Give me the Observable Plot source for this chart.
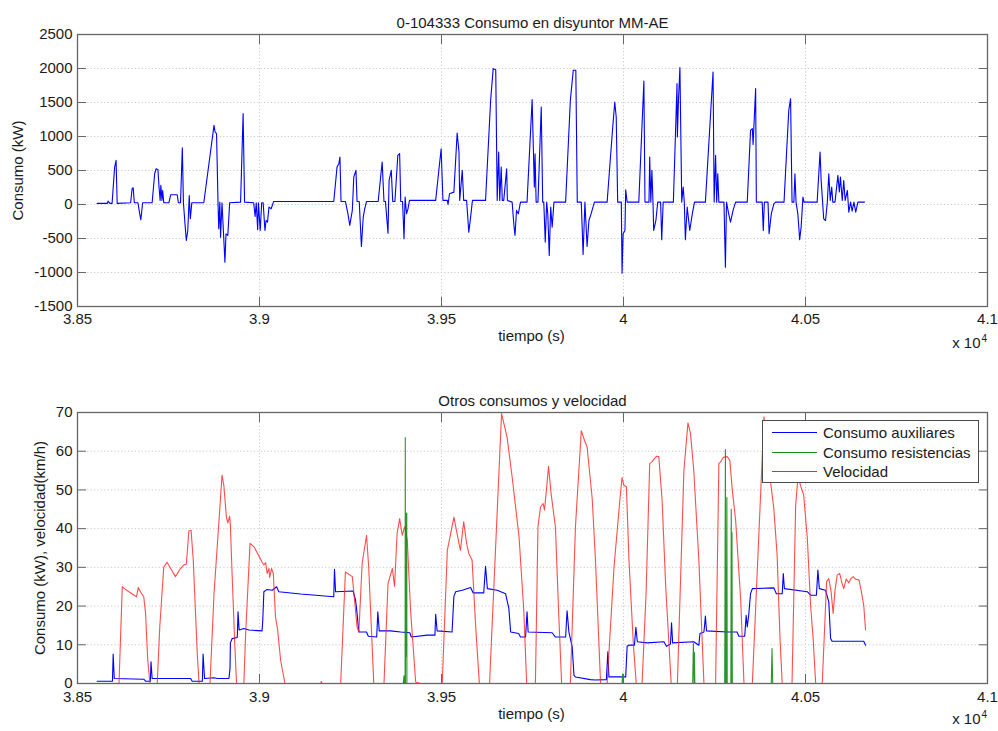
<!DOCTYPE html>
<html>
<head>
<meta charset="utf-8">
<script src="https://cdn.jsdelivr.net/npm/d3@7"></script>
<script src="https://cdn.jsdelivr.net/npm/@observablehq/plot@0.6"></script>
<style>
  body { margin: 0; background: #fff; }
  #chart { position: relative; width: 998px; height: 731px; font-family: "Liberation Sans", Arial, Helvetica, sans-serif; }
  #chart svg { display: block; }
  .legend {
    position: absolute; left: 762px; top: 420px; width: 217px; height: 63px;
    box-sizing: border-box; border: 1px solid #4a4a4a; background: #fff;
    padding-top: 2px; font-size: 15px; color: #1a1a1a;
  }
  .legend .row { height: 19.4px; display: flex; align-items: center; }
  .legend .swatch { width: 45px; height: 0; margin-left: 9px; margin-right: 6px; border-top: 1.2px solid; }
</style>
</head>
<body>
<div id="chart"></div>
<script>
// Time axis (seconds) and its tick labels, shown in units of 10^4 s
const xTickValues = [38500, 39000, 39500, 40000, 40500, 41000];
const xTickLabels = ["3.85", "3.9", "3.95", "4", "4.05", "4.1"];

// Upper panel: circuit-breaker consumption (kW)
const yTicksDisyuntor = [-1500, -1000, -500, 0, 500, 1000, 1500, 2000, 2500];
const consumoDisyuntor = [
  [38554,16],[38582,16],[38584,50],[38589,16],[38595,16],[38602,550],[38606,649],[38609,16],[38646,25],[38650,232],[38653,246],[38656,25],
  [38666,25],[38671,-137],[38674,-225],[38679,25],[38705,25],[38712,452],[38716,526],[38721,511],[38724,256],[38727,60],[38729,281],[38732,60],
  [38734,207],[38737,25],[38751,25],[38756,143],[38774,143],[38777,25],[38783,25],[38788,835],[38791,25],[38796,-333],[38799,-529],[38803,-382],
  [38807,133],[38810,-210],[38814,25],[38847,25],[38875,1164],[38878,1066],[38882,1041],[38886,35],[38888,-357],[38891,35],[38893,-480],[38897,25],
  [38905,-848],[38908,-431],[38913,-455],[38918,25],[38948,35],[38955,1336],[38959,35],[38984,25],[38988,-176],[38991,25],[38995,-372],[38997,25],
  [39002,-382],[39006,25],[39010,25],[39015,-382],[39018,-235],[39022,-260],[39026,-38],[39032,-63],[39039,45],[39204,45],[39213,550],[39218,600],
  [39221,698],[39224,45],[39236,45],[39243,-137],[39248,-308],[39255,-87],[39259,403],[39265,502],[39268,45],[39274,45],[39280,-617],[39285,-185],
  [39289,-63],[39294,45],[39326,45],[39337,624],[39342,45],[39346,45],[39353,-421],[39356,354],[39362,502],[39366,45],[39372,45],[39380,722],
  [39385,747],[39388,45],[39393,45],[39397,-504],[39400,109],[39404,-137],[39408,-63],[39412,60],[39484,60],[39499,820],[39504,60],[39516,60],
  [39518,0],[39522,158],[39534,182],[39543,1051],[39548,771],[39550,60],[39557,502],[39561,60],[39569,60],[39575,-406],[39580,-185],[39585,60],
  [39621,60],[39635,1532],[39642,1998],[39649,1983],[39653,60],[39657,771],[39660,60],[39664,550],[39667,60],[39671,60],[39679,526],[39681,60],
  [39694,35],[39699,-308],[39702,-455],[39706,-87],[39711,-137],[39717,35],[39735,35],[39749,1542],[39752,894],[39755,256],[39757,747],[39760,35],
  [39765,35],[39774,1434],[39778,35],[39781,35],[39785,-553],[39789,35],[39792,-137],[39796,-750],[39800,-38],[39804,-333],[39809,35],[39841,35],
  [39854,1532],[39862,1974],[39869,1974],[39873,35],[39884,35],[39889,-735],[39894,35],[39900,-617],[39905,-235],[39911,-137],[39920,35],[39955,35],
  [39969,1041],[39976,1507],[39980,1287],[39984,35],[39994,35],[39996,-1010],[39999,-431],[40004,-382],[40006,217],[40010,35],[40042,35],[40056,1817],
  [40059,35],[40070,35],[40072,698],[40075,35],[40078,502],[40081,35],[40083,-382],[40089,-235],[40094,35],[40102,35],[40105,-519],[40109,35],
  [40137,35],[40147,1777],[40148,992],[40151,1532],[40155,2013],[40160,35],[40164,256],[40167,35],[40170,-519],[40175,-38],[40182,-382],[40189,-137],
  [40195,35],[40225,35],[40246,1949],[40249,35],[40253,722],[40256,35],[40259,452],[40262,35],[40276,35],[40280,-921],[40283,35],[40289,-137],
  [40294,-260],[40301,-87],[40308,35],[40340,35],[40349,1090],[40354,1115],[40356,884],[40363,1704],[40365,35],[40381,35],[40384,-382],[40387,35],
  [40397,35],[40400,-431],[40406,-137],[40413,10],[40418,35],[40441,35],[40454,1385],[40459,1556],[40463,35],[40468,35],[40471,452],[40474,35],
  [40479,-137],[40484,-519],[40488,-333],[40493,109],[40496,35],[40532,35],[40540,771],[40543,354],[40547,35],[40550,-210],[40555,-235],[40560,35],
  [40564,452],[40568,60],[40572,256],[40575,35],[40581,35],[40589,428],[40593,183],[40596,403],[40601,60],[40605,354],[40609,60],[40615,207],
  [40619,-112],[40624,35],[40628,-97],[40633,35],[40638,-112],[40644,35],[40662,35]
];

// Lower panel: auxiliary consumption (kW), heater consumption (kW), speed (km/h)
const yTicksOtros = [0, 10, 20, 30, 40, 50, 60, 70];
const consumoAuxiliares = [
  [38554,0.6],[38596,0.6],[38598,7.6],[38601,1.3],[38682,1.1],[38687,0.6],[38700,0.6],[38702,5.6],[38705,1.3],[38811,1.3],[38815,0.6],[38843,0.6],
  [38845,7.6],[38849,1.3],[38875,1.5],[38884,1.3],[38916,1.3],[38919,3.9],[38920,10.5],[38925,11.6],[38939,11.9],[38941,18.5],[38944,13.8],[38957,14.2],
  [38971,13.8],[39007,13.6],[39009,16.4],[39012,23.7],[39021,24.3],[39035,24.1],[39047,25.0],[39053,23.7],[39113,23.1],[39204,22.4],[39206,29.5],[39209,23.7],
  [39257,23.9],[39264,21.5],[39268,18.1],[39273,13.3],[39294,13.3],[39299,12.2],[39322,12.0],[39325,18.5],[39329,13.6],[39360,13.6],[39388,13.3],[39413,13.1],
  [39417,12.0],[39461,12.5],[39482,12.5],[39484,17.9],[39488,13.6],[39529,13.3],[39534,22.5],[39539,23.7],[39557,24.1],[39580,24.8],[39587,23.4],[39616,23.4],
  [39621,30.3],[39626,24.5],[39653,24.1],[39676,23.2],[39685,19.4],[39690,13.3],[39712,12.9],[39717,12.0],[39731,12.0],[39735,18.5],[39738,13.3],[39804,13.1],
  [39813,12.0],[39841,12.0],[39845,18.8],[39850,13.3],[39859,9.5],[39864,2.1],[39868,1.7],[39909,1.0],[39923,0.9],[39953,1.0],[39957,8.2],[39960,1.7],
  [40006,1.7],[40010,9.6],[40015,9.9],[40030,9.9],[40034,14.5],[40038,10.8],[40065,10.5],[40111,10.8],[40118,9.6],[40129,10.2],[40132,15.7],[40135,10.5],
  [40193,10.8],[40207,9.9],[40210,12.9],[40221,13.3],[40225,17.4],[40228,13.6],[40285,13.3],[40312,13.3],[40317,12.2],[40333,12.2],[40337,17.6],[40340,14.6],
  [40344,17.7],[40349,23.2],[40354,24.5],[40413,24.7],[40420,23.2],[40436,23.2],[40439,28.4],[40442,24.5],[40505,23.7],[40514,22.8],[40530,22.8],[40534,29.3],
  [40538,24.5],[40555,24.1],[40564,21.1],[40569,11.6],[40573,10.9],[40660,10.9],[40665,9.9]
];
const consumoResistencias = [
  [38554,0],[39395,0],[39397,2],[39398,0],[39400,0],[39400.5,63.5],[39401,0],[39401.5,44],[39402,7],[39402.5,40],[39403,8],[39403.5,35],[39404,10],
  [39404.5,44],[39405,0],[39996,0],[39998,2.5],[40000,0],[40190,0],[40192,10.3],[40194,0],[40195,8],[40196,0],[40278,0],[40280,60.4],[40281,0],
  [40282,30],[40283,0],[40284,48],[40285,0],[40295,0],[40296,45],[40297,0],[40298,39],[40299,0],[40406,0],[40408,9],[40410,0],[40662,0]
];
const velocidad = [
  [38554,0],[38614,0],[38623,25.0],[38629,24.5],[38641,23.7],[38662,22.4],[38667,24.8],[38673,23.7],[38682,22.4],[38687,18.1],[38693,6.0],[38699,0],
  [38719,0],[38726,14.6],[38737,30.1],[38746,31.3],[38756,29.7],[38769,27.6],[38783,29.7],[38792,30.6],[38799,30.8],[38806,39.4],[38812,39.6],[38818,31.9],
  [38829,7.7],[38834,0],[38864,0],[38875,23.2],[38891,45.2],[38897,53.8],[38902,51.2],[38909,43.0],[38913,41.5],[38918,43.2],[38920,40.9],[38925,27.6],
  [38932,10.3],[38937,0],[38957,0],[38962,12.9],[38974,36.2],[38985,35.3],[39007,31.4],[39012,30.6],[39017,31.2],[39021,28.4],[39026,29.7],[39028,27.4],
  [39033,29.7],[39038,28.4],[39044,17.2],[39050,13.8],[39058,6.0],[39070,0],[39168,0],[39170,0.5],[39172,0],[39223,0],[39236,28.8],[39255,27.6],
  [39268,14.6],[39273,13.3],[39282,31.0],[39294,38.3],[39300,30.1],[39314,0],[39342,0],[39353,25.8],[39365,29.7],[39371,25.1],[39378,38.7],[39385,42.6],
  [39392,38.3],[39399,40.5],[39406,37.0],[39415,18.9],[39429,0.4],[39442,0],[39502,0],[39516,34.4],[39534,43.0],[39548,36.2],[39552,34.4],[39561,41.8],
  [39569,36.2],[39575,33.6],[39584,31.9],[39594,14.6],[39604,0],[39632,0],[39665,69.7],[39680,63.7],[39694,53.4],[39713,37.9],[39726,19.0],[39734,0],
  [39758,0],[39765,40.5],[39772,45.6],[39779,46.5],[39783,44.8],[39789,50.8],[39794,56.1],[39801,49.1],[39813,40.5],[39822,18.1],[39830,0],[39854,0],
  [39868,40.5],[39884,65.3],[39891,63.3],[39900,61.1],[39914,47.8],[39923,31.9],[39937,0],[39955,0],[39974,30.1],[39990,47.4],[39996,53.2],[40001,51.2],
  [40008,50.8],[40015,31.9],[40027,10.3],[40035,0],[40051,0],[40062,23.2],[40072,56.8],[40079,57.3],[40083,57.9],[40091,58.7],[40097,58.6],[40106,47.4],
  [40116,25.0],[40131,0],[40148,0],[40166,55.1],[40177,67.3],[40184,64.6],[40193,55.1],[40207,31.9],[40221,0],[40253,0],[40262,56.8],[40267,57.3],
  [40274,58.4],[40285,58.6],[40292,57.7],[40299,49.9],[40308,42.2],[40322,21.5],[40331,0],[40354,0],[40386,68.9],[40404,52.1],[40413,45.2],[40422,33.2],
  [40430,11.6],[40436,0],[40463,0],[40473,46.1],[40480,54.0],[40486,51.2],[40495,48.7],[40505,37.5],[40514,20.2],[40521,11.6],[40528,0],[40546,0],
  [40558,26.3],[40564,27.1],[40570,24.0],[40576,18.1],[40581,24.0],[40587,28.0],[40594,28.4],[40600,26.0],[40605,24.5],[40612,27.0],[40619,26.0],[40624,27.0],
  [40631,27.6],[40637,27.0],[40647,26.7],[40653,24.0],[40660,20.2],[40665,13.8]
];

const seriesNames = ["Consumo auxiliares", "Consumo resistencias", "Velocidad"];
const seriesColors = ["#0000ff", "#138a13", "#ff2020"];

const FONT = '"Liberation Sans", Arial, Helvetica, sans-serif';
const AXIS = "#666";
const GRID = "#c9c9c9";

const fmtX = d => xTickLabels[xTickValues.indexOf(d)];

function panel({height, marginTop, marginBottom, yDomain, yTicks, title, yLabel, yLabelDx, xPad, xLabelDy, powDy, lines}) {
  return Plot.plot({
    width: 998,
    height,
    marginLeft: 77,
    marginRight: 11,
    marginTop,
    marginBottom,
    style: {fontFamily: FONT, fontSize: "15px", color: "#1a1a1a", background: "#fff"},
    x: {domain: [38500, 41000]},
    y: {domain: yDomain},
    marks: [
      Plot.gridX(xTickValues.slice(1, -1), {stroke: GRID, strokeOpacity: 1, strokeDasharray: "1.2,2.2"}),
      Plot.gridY(yTicks.slice(1, -1), {stroke: GRID, strokeOpacity: 1, strokeDasharray: "1.2,2.2"}),
      ...lines.map(([data, color, opacity]) =>
        Plot.line(data, {x: d => d[0], y: d => d[1], stroke: color, strokeWidth: 1.1, strokeOpacity: opacity, clip: true})),
      // inward tick marks on all four sides
      Plot.axisX(xTickValues, {anchor: "bottom", tickSize: -9, fill: "none", stroke: AXIS, label: null}),
      Plot.axisX(xTickValues, {anchor: "top", tickSize: -9, fill: "none", stroke: AXIS, label: null}),
      Plot.axisY(yTicks, {anchor: "left", tickSize: -9, fill: "none", stroke: AXIS, label: null}),
      Plot.axisY(yTicks, {anchor: "right", tickSize: -9, fill: "none", stroke: AXIS, label: null}),
      // tick labels
      Plot.axisX(xTickValues, {anchor: "bottom", tickSize: 0, tickPadding: xPad, tickFormat: fmtX, label: null, fontSize: 15}),
      Plot.axisY(yTicks, {anchor: "left", tickSize: 0, tickPadding: 5, tickFormat: d => String(d), label: null, fontSize: 15}),
      Plot.frame({stroke: AXIS, strokeWidth: 1.3}),
      // title, axis labels and the x-axis multiplier
      Plot.text([title], {text: d => d, frameAnchor: "top", dy: -17, fontSize: 15}),
      Plot.text([yLabel], {text: d => d, frameAnchor: "left", textAnchor: "middle", rotate: -90, dx: yLabelDx, fontSize: 15}),
      Plot.text(["tiempo (s)"], {text: d => d, frameAnchor: "bottom", dx: -1, dy: xLabelDy, fontSize: 15}),
      Plot.text(["x 10"], {text: d => d, frameAnchor: "bottom-right", textAnchor: "end", dx: -7, dy: powDy, fontSize: 15}),
      Plot.text(["4"], {text: d => d, frameAnchor: "bottom-right", textAnchor: "start", dx: -6, dy: powDy - 6, fontSize: 10})
    ]
  });
}

const chart = document.getElementById("chart");

chart.append(panel({
  height: 365, marginTop: 34, marginBottom: 59,
  yDomain: [-1500, 2500], yTicks: yTicksDisyuntor,
  title: "0-104333 Consumo en disyuntor MM-AE",
  yLabel: "Consumo (kW)", yLabelDx: -59, xPad: 7, xLabelDy: 34, powDy: 41,
  lines: [[consumoDisyuntor, "#0000ff", 1]]
}));

chart.append(panel({
  height: 366, marginTop: 47, marginBottom: 48,
  yDomain: [0, 70], yTicks: yTicksOtros,
  title: "Otros consumos y velocidad",
  yLabel: "Consumo (kW), velocidad(km/h)", yLabelDx: -37, xPad: 8, xLabelDy: 35, powDy: 40,
  lines: [
    [consumoAuxiliares, seriesColors[0], 1],
    [velocidad, seriesColors[2], 0.8],
    [consumoResistencias, seriesColors[1], 0.9]
  ]
}));

// legend box in the upper-right corner of the lower panel
const legend = document.createElement("div");
legend.className = "legend";
seriesNames.forEach((name, i) => {
  const row = document.createElement("div");
  row.className = "row";
  const sw = document.createElement("span");
  sw.className = "swatch";
  sw.style.borderColor = seriesColors[i];
  const label = document.createElement("span");
  label.textContent = name;
  row.append(sw, label);
  legend.append(row);
});
chart.append(legend);
</script>
</body>
</html>
